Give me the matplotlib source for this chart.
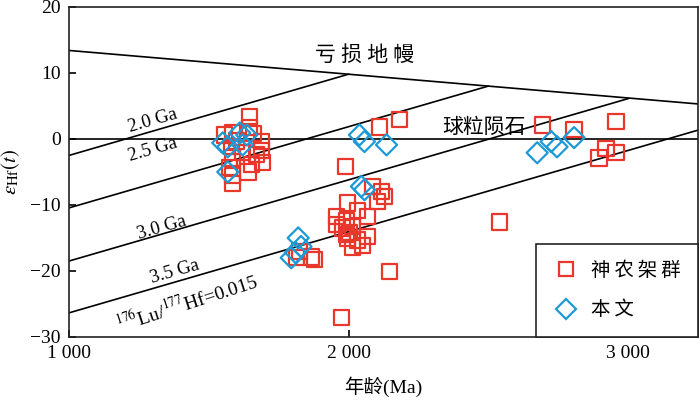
import numpy as np
import matplotlib.pyplot as plt
from matplotlib.lines import Line2D

plt.rcParams['font.family'] = ['Liberation Serif', 'Noto Sans CJK SC']
plt.rcParams['mathtext.fontset'] = 'stix'
plt.rcParams['axes.unicode_minus'] = True

# reference curves (age in Ma, epsilon Hf)
dm_age = [1000, 3250]
dm_eps = [13.4, 5.3]
model_ages = [2000, 2500, 3000, 3500]
model_dm_eps = [9.8, 8.0, 6.1, 4.4]
crust_slope = 12.3  # epsilon units per Ga, 176Lu/177Hf = 0.015

# 神农架群 (squares)
snj_age = [1646, 1646, 1586, 1689, 1582, 1693, 1653, 1640, 1586, 1586, 1586, 1671,
           1557, 1689, 1600, 1620, 1660, 1575,
           1989, 2086, 2118, 2129, 2104, 2032, 1996, 1957, 1957, 1993, 1979, 2014,
           2068, 2032, 1993, 1996, 2050, 2068, 2004, 2014,
           1825, 1868, 1879, 1814, 2146, 1975, 2539, 2111, 2182,
           2693, 2807, 2957, 2921, 2957, 2896]
snj_eps = [3.4, 1.7, 0.9, -0.4, -1.2, -3.6, -3.9, -5.0, -2.9, -5.5, -6.7, -2.4,
           0.6, -1.7, -0.3, -2.0, 0.8, -4.3,
           -4.2, -7.2, -8.0, -8.7, -9.5, -10.8, -9.7, -11.8, -13.0, -12.3, -13.5, -13.3,
           -14.8, -15.3, -14.5, -15.0, -16.1, -11.8, -14.2, -16.4,
           -17.1, -17.9, -18.3, -18.0, -20.1, -27.0, -12.6, 1.8, 2.9,
           2.1, 1.4, 2.6, -1.4, -2.0, -2.9]

# 本文 (diamonds)
bw_age = [1550, 1611, 1636, 1568, 1621, 1568,
          2057, 2046, 1820, 1830, 1810, 1795,
          2039, 2057, 2136, 2675, 2725, 2746, 2807]
bw_eps = [-0.6, 0.9, 0.6, -1.2, -0.9, -5.0,
          -7.7, -7.2, -15.0, -16.3, -17.2, -18.0,
          0.6, -0.4, -0.9, -2.1, -0.4, -1.2, 0.2]

red = '#e8382b'
blue = '#1d9ad6'

fig = plt.figure(figsize=(7.0, 4.05), dpi=100)
ax = fig.add_axes([0.0986, 0.168, 0.8984, 0.815])

xmin, xmax = 1000, 3250
ax.plot(dm_age, dm_eps, color='black', lw=1.2, zorder=2)
ax.axhline(0, color='black', lw=1.2, zorder=2)
for t, e in zip(model_ages, model_dm_eps):
    x1 = min(t, xmax)
    y1 = e - crust_slope * (t - x1) / 1000.0
    y0 = e - crust_slope * (t - xmin) / 1000.0
    ax.plot([xmin, x1], [y0, y1], color='black', lw=1.2, zorder=2)

ax.scatter(snj_age, snj_eps, marker='s', s=120, facecolors='none',
           edgecolors=red, linewidths=1.6, zorder=3)
ax.scatter(bw_age, bw_eps, marker='D', s=115, facecolors='none',
           edgecolors=blue, linewidths=1.6, zorder=4)

ax.text(2057, 12.6, '亏 损 地 幔', fontsize=15, ha='center', va='center')
ax.text(2486, 1.6, '球粒陨石', fontsize=15, ha='center', va='center')
ax.text(1300, 2.7, '2.0 Ga', fontsize=13.5, ha='center', va='center', rotation=16)
ax.text(1300, -1.7, '2.5 Ga', fontsize=13.5, ha='center', va='center', rotation=16)
ax.text(1332, -13.4, '3.0 Ga', fontsize=13.5, ha='center', va='center', rotation=16)
ax.text(1379, -20.1, '3.5 Ga', fontsize=13.5, ha='center', va='center', rotation=16)
ax.text(1421, -24.8, r'$^{176}$Lu/$^{177}$Hf=0.015', fontsize=14,
        ha='center', va='center', rotation=18)

ax.set_xlim(xmin, xmax)
ax.set_ylim(-30, 20)
ax.set_xticks([1000, 2000, 3000])
ax.set_xticklabels(['1 000', '2 000', '3 000'])
ax.set_yticks([20, 10, 0, -10, -20, -30])
ax.set_yticklabels(['20', '10', '0', '\u221210', '\u221220', '\u221230'])
ax.tick_params(direction='in', length=5, width=1.2, labelsize=14, pad=6)
for sp in ax.spines.values():
    sp.set_linewidth(1.2)
    sp.set_color('#222222')

ax.set_xlabel('年龄(Ma)', fontsize=14, labelpad=10)
ax.set_ylabel(r'$\varepsilon_{\rm Hf}(t)$', fontsize=15, labelpad=6)

handles = [
    Line2D([], [], marker='s', ls='none', ms=10.5, mfc='none', mec=red, mew=1.6),
    Line2D([], [], marker='D', ls='none', ms=10, mfc='none', mec=blue, mew=1.6),
]
leg = ax.legend(handles, ['神\u2009农\u2009架\u2009群', '本\u2009文'], loc='lower right',
                fontsize=14, frameon=True, fancybox=False, borderaxespad=0,
                borderpad=0.9, labelspacing=1.1, handletextpad=0.6, handlelength=1.3)
leg.get_frame().set_edgecolor('#222222')
leg.get_frame().set_linewidth(1.2)
leg.get_frame().set_alpha(1)

fig.savefig('out.png', dpi=100)
